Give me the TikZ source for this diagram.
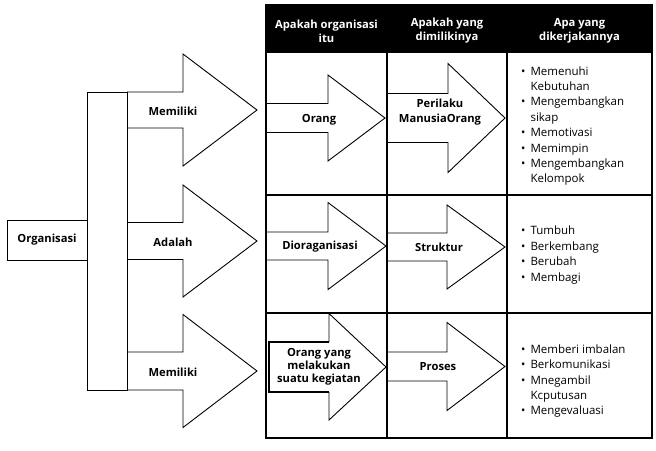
\documentclass[tikz,border=0pt]{standalone}
\usepackage{fontspec}
\setmainfont{Open Sans}
\newcommand{\fatarrow}[7]{%
  \draw[#1] (#2,#5-#6) -- (#3,#5-#6) -- (#3,#5-#7) -- (#4,#5) -- (#3,#5+#7) -- (#3,#5+#6) -- (#2,#5+#6);}
\tikzset{
  ln/.style={draw=black, line width=0.9pt, line join=miter},
  thickln/.style={draw=black, line width=1.7pt, line join=miter},
  tbl/.style={draw=black, line width=1.3pt},
  lbl/.style={font=\fontsize{11.2}{13}\selectfont\bfseries, align=center, inner sep=0pt},
  hdr/.style={font=\fontsize{11.2}{14}\selectfont\bfseries, text=white, align=center, inner sep=0pt},
  lst/.style={font=\fontsize{11.5}{15.4}\selectfont, anchor=west, inner sep=0pt},
  boxnode/.style={ln, inner sep=0pt}
}
\begin{document}
\begin{tikzpicture}[x=1pt,y=-1pt]
\useasboundingbox (0,0) rectangle (656,450);
% left part
\fatarrow{ln}{127}{183}{257}{110}{18}{56}
\fatarrow{ln}{127}{183}{257}{241}{18.5}{56}
\fatarrow{ln}{127}{183}{257}{371}{19}{56.5}
\node[boxnode, minimum width=80pt, minimum height=40pt, font=\fontsize{11.2}{13}\selectfont\bfseries] (org) at (47,240) {Organisasi};
\node[boxnode, minimum width=40pt, minimum height=298pt] (bar) at (107,241) {};
\node[lbl] (m1) at (173,111) {Memiliki};
\node[lbl] (ad) at (173,242) {Adalah};
\node[lbl] (m2) at (173,372) {Memiliki};
% table
\fill[black] (266,5) rectangle (652,53);
\draw[tbl] (266,5) rectangle (652,438);
\draw[tbl] (387,5) -- (387,438);
\draw[tbl] (507,5) -- (507,438);
\draw[tbl] (266,195) -- (652,195);
\draw[tbl] (266,313) -- (652,313);
\node[hdr] (h1) at (326.5,31) {Apakah organisasi\\itu};
\node[hdr] (h2) at (447,31) {Apakah yang\\dimilikinya};
\node[hdr] (h3) at (579.5,31) {Apa yang\\dikerjakannya};
% row 1
\fatarrow{ln}{266}{328}{385}{118}{14.5}{43}
\fatarrow{ln}{388}{448}{505}{118}{24.5}{54.5}
\node[lbl] (r1a) at (319,120) {Orang};
\node[lbl, font=\fontsize{11.2}{15}\selectfont\bfseries] (r1b) at (440,112) {Perilaku\\ManusiaOrang};
\node[lst] (r1c) at (521,126) {\begin{tabular}{@{}l@{\hspace{5pt}}l@{}}
• & Memenuhi\\ & Kebutuhan\\
• & Mengembangkan\\ & sikap\\
• & Memotivasi\\
• & Memimpin\\
• & Mengembangkan\\ & Kelompok
\end{tabular}};
% row 2
\fatarrow{ln}{266}{328}{386}{246}{14}{43.5}
\fatarrow{ln}{388}{447}{505}{247}{14}{42}
\node[lbl] (r2a) at (320,247) {Dioraganisasi};
\node[lbl] (r2b) at (439,247) {Struktur};
\node[lst] (r2c) at (521,255) {\begin{tabular}{@{}l@{\hspace{5pt}}l@{}}
• & Tumbuh\\
• & Berkembang\\
• & Berubah\\
• & Membagi
\end{tabular}};
% row 3
\draw[thickln] (329,342) -- (269,342) -- (269,392) -- (329,392);
\draw[ln] (329,342) -- (329,313.5) -- (386,367) -- (329,420) -- (329,392);
\fatarrow{ln}{388}{447}{505}{366.5}{14.5}{44}
\node[lbl] (r3a) at (319,367) {Orang yang\\melakukan\\suatu kegiatan};
\node[lbl] (r3b) at (438,367) {Proses};
\node[lst] (r3c) at (521,381) {\begin{tabular}{@{}l@{\hspace{5pt}}l@{}}
• & Memberi imbalan\\
• & Berkomunikasi\\
• & Mnegambil\\ & Kcputusan\\
• & Mengevaluasi
\end{tabular}};
\end{tikzpicture}
\end{document}
